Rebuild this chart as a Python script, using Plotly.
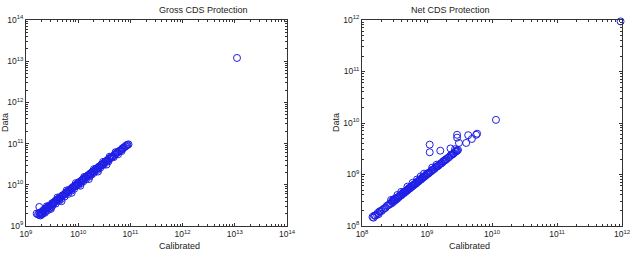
import plotly.graph_objects as go
from plotly.subplots import make_subplots

# ---- Gross CDS Protection (units: 1e9) ----
gross_calibrated = [1.6, 1.7, 1.8, 1.8, 1.9, 2.0, 2.0, 2.1, 2.2, 2.3, 2.4, 2.5, 2.6, 2.7, 2.8, 3.0, 3.1,
                    3.3, 3.5, 3.6, 3.8, 4.0, 4.2, 4.4, 4.6, 4.9, 5.1, 5.4, 5.7, 6.0, 6.3, 6.6, 7.0, 7.3,
                    7.7, 8.1, 8.5, 9.0, 9.4, 9.9, 10.4, 11.0, 11.5, 12.1, 12.8, 13.5, 14.2, 15.0, 15.8,
                    16.7, 17.6, 18.5, 19.5, 20.6, 21.7, 23.0, 24.2, 25.5, 27.0, 28.5, 30.0, 31.5, 33.0,
                    35.0, 37.0, 39.0, 41.0, 44.0, 47.0, 50.0, 53.0, 57.0, 61.0, 66.0, 71.0, 77.0, 83.0,
                    88.0, 1.8, 2.2, 2.6, 3.2, 4.5, 6.8, 8.8, 12.5, 16.0, 22.0, 29.0, 36.0, 45.0,
                    1.9, 2.0, 2.1, 2.3, 2.4, 2.6, 2.8, 3.0, 3.2, 3.4, 3.7, 3.9, 4.3, 4.7, 5.0, 5.5,
                    5.9, 6.4, 6.9, 7.4, 7.9, 8.4, 9.2, 9.7, 10.2, 10.8, 11.3, 12.0, 12.6, 13.3, 14.0,
                    15.2, 16.3, 17.2, 18.0, 19.2, 20.0, 22.0, 23.5, 25.0, 26.5, 28.0, 31.0, 34.0, 38.0,
                    42.0, 48.0, 55.0, 63.0, 68.0, 74.0, 80.0, 92.0,
                    2.5, 3.0, 4.0, 4.8, 6.0, 7.5, 9.0, 11.0, 13.0, 16.0, 20.0, 24.0, 30.0, 35.0,
                    40.0, 52.0, 58.0, 70.0, 85.0, 11000.0]
gross_data = [2.0, 1.9, 2.1, 1.85, 2.0, 2.2, 2.05, 2.3, 2.3, 2.5, 2.6, 2.7, 2.8, 3.0, 3.1, 3.2, 3.4,
              3.6, 3.8, 4.0, 4.1, 4.4, 4.6, 4.7, 5.0, 5.3, 5.6, 5.8, 6.2, 6.6, 6.8, 7.2, 7.6, 8.0,
              8.4, 8.7, 9.3, 9.8, 10.2, 10.8, 11.4, 11.8, 12.6, 13.0, 13.9, 14.6, 15.5, 16.2, 17.0,
              18.2, 19.0, 20.2, 21.0, 22.4, 23.5, 24.6, 26.4, 27.5, 29.2, 31.0, 32.4, 34.0, 36.0,
              37.5, 40.0, 42.5, 44.0, 47.5, 50.0, 54.0, 57.0, 61.0, 65.0, 70.0, 76.0, 82.0, 88.0,
              93.0, 2.9, 2.5, 2.9, 3.6, 5.0, 7.5, 9.4, 13.8, 17.5, 24.0, 31.5, 39.0, 48.0,
              1.8, 1.9, 2.0, 2.1, 2.3, 2.4, 2.7, 2.8, 3.1, 3.5, 3.5, 4.2, 4.1, 4.5, 5.5, 5.2,
              6.3, 6.0, 7.4, 7.2, 8.8, 8.0, 9.5, 10.6, 9.9, 12.0, 11.0, 13.2, 12.2, 14.8, 13.6,
              16.8, 15.8, 19.0, 17.6, 21.2, 19.5, 24.5, 23.0, 27.8, 26.0, 31.0, 30.5, 37.5, 37.0,
              46.0, 47.0, 60.0, 68.0, 66.0, 80.0, 86.0, 96.0,
              3.0, 2.6, 4.9, 4.0, 7.3, 6.4, 11.0, 9.5, 15.5, 13.8, 24.0, 21.0, 36.0, 31.0,
              48.0, 62.0, 55.0, 76.0, 92.0, 12000.0]

# ---- Net CDS Protection (units: 1e8) ----
net_calibrated = [1.45, 1.5, 1.6, 1.75, 1.8, 1.85, 2.0, 2.1, 2.3, 2.5, 2.6, 2.8, 3.0, 3.0, 3.1, 3.2,
                  3.3, 3.4, 3.5, 3.6, 3.8, 3.9, 4.0, 4.2, 4.4, 4.5, 4.7, 4.9, 5.0, 5.2, 5.4, 5.6, 5.8,
                  6.0, 6.2, 6.5, 6.8, 7.0, 7.3, 7.6, 8.0, 8.3, 8.7, 9.0, 9.5, 10.0, 10.5, 11.0, 11.5,
                  12.0, 13.0, 14.0, 15.0, 16.0, 17.0, 18.0, 19.0, 20.0, 21.0, 22.0, 24.0, 25.0, 26.0,
                  28.0, 29.0, 30.0,
                  1.55, 1.7, 1.9, 2.2, 2.4, 2.7, 2.9, 3.05, 3.25, 3.45, 3.7, 4.1, 4.3, 4.6, 4.8, 5.1,
                  5.3, 5.5, 5.9, 6.3, 6.6, 7.1, 7.5, 7.8, 8.2, 8.5, 9.2, 9.8, 10.3, 10.8, 11.8, 12.5,
                  13.5, 14.5, 15.5, 16.5, 17.5, 18.5, 19.5, 23.0, 25.5, 27.0, 28.5,
                  4.0, 5.0, 6.0, 7.0, 8.0, 9.0, 12.0, 3.5, 2.8, 14.0,
                  11.0, 11.0, 16.0, 29.0, 29.0, 31.0, 40.0, 43.0, 49.0, 59.0, 57.0, 23.0, 27.0,
                  115.0, 9500.0]
net_data = [1.5, 1.45, 1.6, 1.8, 1.7, 1.9, 1.95, 2.1, 2.25, 2.5, 2.6, 2.7, 3.1, 2.9, 3.2, 3.1,
            3.4, 3.3, 3.6, 3.5, 3.8, 4.0, 3.9, 4.3, 4.3, 4.6, 4.6, 5.0, 4.9, 5.3, 5.3, 5.7, 5.7,
            6.1, 6.1, 6.6, 6.7, 7.1, 7.2, 7.7, 7.9, 8.4, 8.6, 9.1, 9.4, 10.0, 10.4, 11.0, 11.4,
            12.0, 12.8, 14.0, 14.8, 16.0, 16.8, 18.0, 18.8, 20.0, 21.0, 21.8, 24.0, 24.8, 26.2,
            27.8, 29.2, 30.0,
            1.6, 1.65, 1.95, 2.2, 2.45, 2.75, 3.0, 3.3, 3.4, 3.55, 3.7, 4.1, 4.5, 4.7, 4.9, 5.1,
            5.5, 5.5, 6.0, 6.4, 6.5, 7.3, 7.5, 8.1, 8.2, 8.8, 9.3, 10.2, 10.5, 11.0, 12.2, 12.6,
            13.8, 14.5, 15.8, 16.4, 17.8, 18.8, 19.8, 23.5, 25.5, 27.5, 29.0,
            4.6, 5.8, 6.9, 8.0, 9.2, 10.4, 13.6, 4.0, 3.2, 15.5,
            38.0, 27.0, 29.0, 59.0, 52.0, 41.0, 41.0, 58.0, 49.0, 62.0, 59.0, 32.0, 31.0,
            115.0, 9400.0]

gx = [v * 1e9 for v in gross_calibrated]
gy = [v * 1e9 for v in gross_data]
nx = [v * 1e8 for v in net_calibrated]
ny = [v * 1e8 for v in net_data]

gross_ticks = [9, 10, 11, 12, 13, 14]
net_ticks = [8, 9, 10, 11, 12]

FONT = "Liberation Sans, Arial, sans-serif"
MARK = "rgb(30,30,230)"
TXT = "#222"

fig = make_subplots(rows=1, cols=2, horizontal_spacing=0.1)

fig.add_trace(go.Scatter(x=gx, y=gy, mode="markers", cliponaxis=False,
                         marker=dict(symbol="circle-open", size=7, color=MARK, line=dict(width=1))),
              row=1, col=1)
fig.add_trace(go.Scatter(x=nx, y=ny, mode="markers", cliponaxis=False,
                         marker=dict(symbol="circle-open", size=7, color=MARK, line=dict(width=1))),
              row=1, col=2)


def ax(ticks):
    return dict(type="log", range=[ticks[0], ticks[-1]], automargin=False,
                tickvals=[10 ** t for t in ticks],
                ticktext=["10<sup>%d</sup>" % t for t in ticks],
                ticks="inside", ticklen=3, tickcolor="#333",
                minor=dict(ticks="inside", ticklen=2, tickcolor="#333", dtick="D1"),
                showline=True, linecolor="#333", linewidth=1, mirror="allticks",
                showgrid=False, zeroline=False,
                tickfont=dict(family=FONT, size=8.5, color=TXT))


GX = [0, 0.438]
NX = [0.5638, 1.0]
fig.update_xaxes(**ax(gross_ticks), domain=GX, row=1, col=1)
fig.update_yaxes(**ax(gross_ticks), row=1, col=1)
fig.update_xaxes(**ax(net_ticks), domain=NX, row=1, col=2)
fig.update_yaxes(**ax(net_ticks), row=1, col=2)

titles = ["Gross CDS Protection", "Net CDS Protection"]
data_shift = [-21, -26]
for dom, title, ds in zip([GX, NX], titles, data_shift):
    cx = (dom[0] + dom[1]) / 2
    fig.add_annotation(text=title, xref="paper", yref="paper", x=cx, y=1.0, yanchor="bottom",
                       yshift=3, showarrow=False, font=dict(family=FONT, size=9, color=TXT))
    fig.add_annotation(text="Calibrated", xref="paper", yref="paper", x=cx, y=0.0, yanchor="top",
                       yshift=-13, showarrow=False, font=dict(family=FONT, size=9, color=TXT))
    fig.add_annotation(text="Data", xref="paper", yref="paper", x=dom[0], y=0.5, xanchor="center",
                       xshift=ds, textangle=-90, showarrow=False,
                       font=dict(family=FONT, size=9, color=TXT))

fig.update_layout(width=633, height=259, margin=dict(l=26, r=11, t=20, b=33),
                  plot_bgcolor="white", paper_bgcolor="white", showlegend=False)

fig.write_html("out.html")
